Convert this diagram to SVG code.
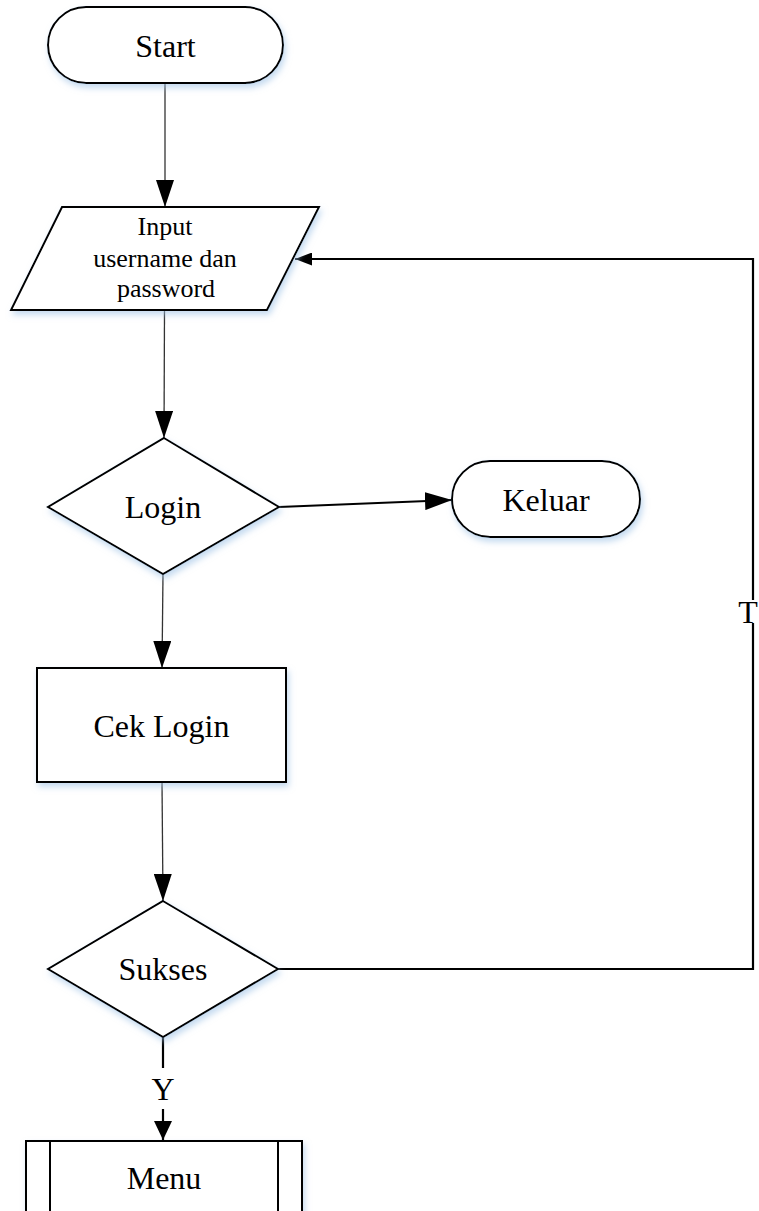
<svg xmlns="http://www.w3.org/2000/svg" width="759" height="1211" viewBox="0 0 759 1211">
<style>
.shape{fill:#ffffff;stroke:#000000;stroke-width:2;filter:url(#glow);}
.lbl{font-family:"Liberation Serif","Times New Roman",serif;font-size:32px;fill:#000000;text-anchor:middle;}
.small{font-size:26px;}
.thin{fill:none;stroke:#333333;stroke-width:1.3;}
.thick{fill:none;stroke:#000000;stroke-width:2.2;}
</style>
<defs>
<filter id="glow" x="-10%" y="-10%" width="125%" height="130%">
<feDropShadow dx="2" dy="4" stdDeviation="3" flood-color="#9fc3e6" flood-opacity="0.6"/>
</filter>
<marker id="arBig" markerUnits="userSpaceOnUse" markerWidth="27" markerHeight="18" refX="27" refY="9" orient="auto">
<path d="M0,0 L27,9 L0,18 z" fill="#000"/>
</marker>
<marker id="arMid" markerUnits="userSpaceOnUse" markerWidth="19" markerHeight="18" refX="19" refY="9" orient="auto">
<path d="M0,0 L19,9 L0,18 z" fill="#000"/>
</marker>
<marker id="arSmall" markerUnits="userSpaceOnUse" markerWidth="17" markerHeight="13" refX="17" refY="6.5" orient="auto">
<path d="M0,0 L17,6.5 L0,13 z" fill="#000"/>
</marker>
</defs>
<rect width="759" height="1211" fill="#ffffff"/>

<g id="connectors">
<line class="thin" x1="165" y1="83" x2="165" y2="207" marker-end="url(#arBig)"/>
<line class="thin" x1="164.5" y1="310" x2="164" y2="438" marker-end="url(#arBig)"/>
<line class="thin" x1="163" y1="574" x2="162" y2="668" marker-end="url(#arBig)"/>
<line class="thin" x1="162" y1="782" x2="163" y2="901" marker-end="url(#arBig)"/>
<line class="thick" x1="279" y1="507" x2="452" y2="500" marker-end="url(#arBig)"/>
<path class="thick" d="M278,969 L753,969 L753,623"/>
<path class="thick" d="M753,600 L753,259 L295,259" marker-end="url(#arSmall)"/>
<text class="lbl" x="748" y="623">T</text>
<line class="thick" x1="163" y1="1037" x2="163" y2="1068"/>
<line class="thick" x1="163" y1="1109" x2="163" y2="1140" marker-end="url(#arMid)"/>
<text class="lbl" x="163" y="1100">Y</text>
</g>

<g id="start">
<rect class="shape" x="48" y="7" width="235" height="76" rx="38" ry="38"/>
<text class="lbl" x="165.5" y="57">Start</text>
</g>

<g id="input">
<polygon class="shape" points="62,207 319,207 267,310 11,310"/>
<text class="lbl small" x="165" y="235">Input</text>
<text class="lbl small" x="165" y="267">username dan</text>
<text class="lbl small" x="166" y="297">password</text>
</g>

<g id="login">
<polygon class="shape" points="164,438 279,507 163,574 48,507"/>
<text class="lbl" x="163" y="518">Login</text>
</g>

<g id="keluar">
<rect class="shape" x="452" y="461" width="188" height="76" rx="38" ry="38"/>
<text class="lbl" x="546" y="511">Keluar</text>
</g>

<g id="ceklogin">
<rect class="shape" x="37" y="668" width="249" height="114"/>
<text class="lbl" x="161.5" y="737">Cek Login</text>
</g>

<g id="sukses">
<polygon class="shape" points="163,901 278,969 163,1037 48,969"/>
<text class="lbl" x="163" y="980">Sukses</text>
</g>

<g id="menu">
<rect class="shape" x="26" y="1141" width="276" height="100"/>
<line x1="50" y1="1141" x2="50" y2="1241" stroke="#000" stroke-width="2"/>
<line x1="278" y1="1141" x2="278" y2="1241" stroke="#000" stroke-width="2"/>
<text class="lbl" x="164" y="1189">Menu</text>
</g>
</svg>
